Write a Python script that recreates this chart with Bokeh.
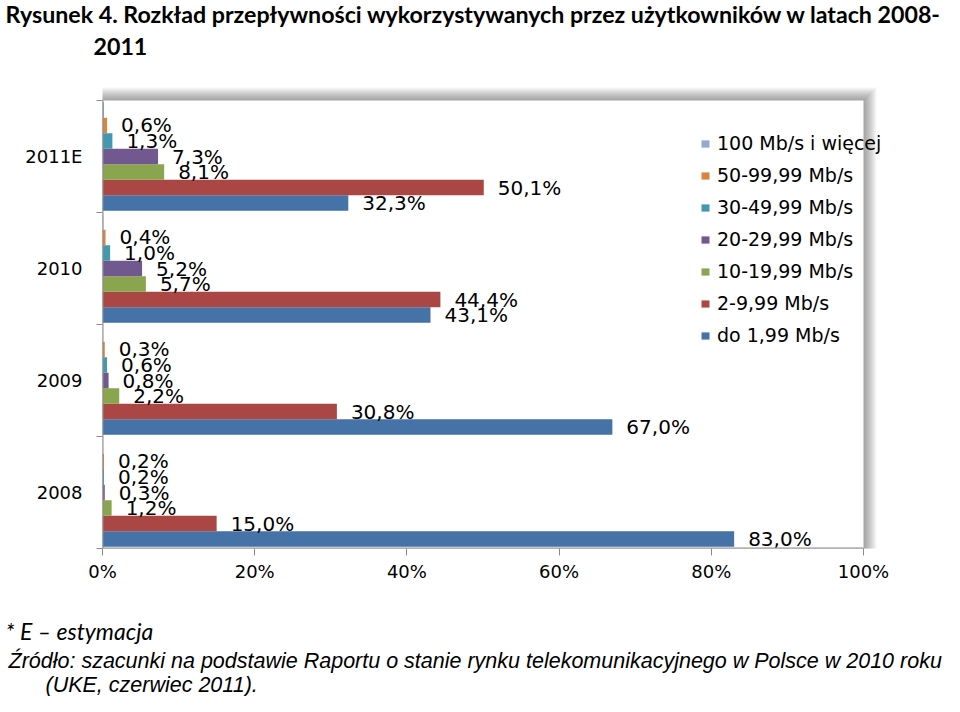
from bokeh.plotting import figure
from bokeh.layouts import column
from bokeh.models import Range1d, FixedTicker, Legend, LegendItem, Label, ColumnDataSource, PrintfTickFormatter
from bokeh.transform import dodge
from bokeh.core.properties import value
from bokeh.embed import file_html
from bokeh.resources import INLINE

# ---------------- data ----------------
years = ["2008", "2009", "2010", "2011E"]
series = ["do 1,99 Mb/s", "2-9,99 Mb/s", "10-19,99 Mb/s", "20-29,99 Mb/s",
          "30-49,99 Mb/s", "50-99,99 Mb/s", "100 Mb/s i więcej"]
do_1_99 = [83.0, 67.0, 43.1, 32.3]
mb_2_9 = [15.0, 30.8, 44.4, 50.1]
mb_10_19 = [1.2, 2.2, 5.7, 8.1]
mb_20_29 = [0.3, 0.8, 5.2, 7.3]
mb_30_49 = [0.2, 0.6, 1.0, 1.3]
mb_50_99 = [0.2, 0.3, 0.4, 0.6]
mb_100 = [0.0, 0.0, 0.1, 0.2]
show_labels = [True, True, True, True, True, True, False]
colors = ["#4572A7", "#AA4643", "#89A54E", "#71588F", "#4198AF", "#DB843D", "#93A9CF"]
x_ticks = [0, 20, 40, 60, 80, 100]
title_lines = ["Rysunek 4. Rozkład przepływności wykorzystywanych przez użytkowników w latach 2008-",
               "2011"]
note_text = "* E – estymacja"
source_lines = ["Źródło: szacunki na podstawie Raportu o stanie rynku telekomunikacyjnego w Polsce w 2010 roku",
                "(UKE, czerwiec 2011)."]

values_list = [do_1_99, mb_2_9, mb_10_19, mb_20_29, mb_30_49, mb_50_99, mb_100]

data = {"ypos": [i + 0.5 for i in range(len(years))]}
for k, vals in enumerate(values_list):
    data[f"v{k}"] = vals
    data[f"t{k}"] = [f"{v:.1f}".replace(".", ",") + "%" for v in vals]
src = ColumnDataSource(data)

W = 944


def text_figure(h):
    f = figure(width=W, height=h, x_range=Range1d(0, W), y_range=Range1d(0, h),
               x_axis_type=None, y_axis_type=None, output_backend="svg",
               toolbar_location=None, min_border=0,
               min_border_left=0, min_border_right=0, min_border_top=0, min_border_bottom=0,
               frame_align=False)
    f.xgrid.visible = False
    f.ygrid.visible = False
    f.outline_line_color = None
    f.background_fill_color = "white"
    f.border_fill_color = "white"
    return f


# ---------------- title strip ----------------
top = text_figure(86)
top.add_layout(Label(x=5, y=73, x_units="screen", y_units="screen", text=title_lines[0],
                     text_font="Lato", text_font_style="bold", text_font_size="23.2px",
                     text_color="black", text_baseline="alphabetic"))
top.add_layout(Label(x=93, y=40, x_units="screen", y_units="screen", text=title_lines[1],
                     text_font="Lato", text_font_style="bold", text_font_size="23.2px",
                     text_color="black", text_baseline="alphabetic"))

# ---------------- chart ----------------
PX_X = 7.61   # px per percent
PX_Y = 112.0  # px per category
FRAME_W = 803
FRAME_H = 462
p = figure(width=W, height=514,
           x_range=Range1d(0, FRAME_W / PX_X), y_range=Range1d(0, FRAME_H / PX_Y),
           output_backend="svg", toolbar_location=None, frame_align=False,
           min_border_left=102, min_border_right=W - 102 - FRAME_W,
           min_border_top=0, min_border_bottom=514 - FRAME_H)
p.xgrid.visible = False
p.ygrid.visible = False
p.outline_line_color = None
p.background_fill_color = "white"
p.border_fill_color = "white"

# drop shadow of the chart area
n = len(years)
for i in range(1, 14):
    dx = i / PX_X
    dy = i / PX_Y
    p.quad(left=-dx, right=100 + dx, bottom=-dy, top=n + dy,
           fill_color="black", fill_alpha=0.03, line_color=None)
p.quad(left=0, right=100, bottom=0, top=n, fill_color="white", line_color=None)

# bars
h = 0.97 / len(series)
renderers = []
for k, name in enumerate(series):
    off = (k - 3) * h
    r = p.hbar(y=dodge("ypos", off), left=0, right=f"v{k}", height=h, source=src,
               fill_color=colors[k], line_color=None)
    renderers.append(r)
    if show_labels[k]:
        p.text(x=f"v{k}", y=dodge("ypos", off), text=f"t{k}", source=src,
               x_offset=14, text_baseline="middle", text_align="left",
               text_font=value("DejaVu Sans"), text_font_size="20px", text_color="black")

# axis lines
p.segment(x0=0, y0=0, x1=0, y1=n, line_color="#8c8c8c", line_width=2)
p.segment(x0=0, y0=0, x1=100, y1=0, line_color="#8c8c8c", line_width=2)

# x axis
p.xaxis.ticker = FixedTicker(ticks=x_ticks)
p.xaxis.formatter = PrintfTickFormatter(format="%d%%")
p.xaxis.axis_line_color = None
p.xaxis.major_tick_out = 7
p.xaxis.major_tick_in = 0
p.xaxis.major_tick_line_color = "#8c8c8c"
p.xaxis.minor_tick_line_color = None
p.xaxis.major_label_text_font = "DejaVu Sans"
p.xaxis.major_label_text_font_size = "18px"
p.xaxis.major_label_text_color = "black"
p.xaxis.major_label_standoff = 5

# y axis
p.yaxis.ticker = FixedTicker(ticks=[i + 0.5 for i in range(n)], minor_ticks=list(range(n + 1)))
p.yaxis.major_label_overrides = {i + 0.5: y for i, y in enumerate(years)}
p.yaxis.axis_line_color = None
p.yaxis.major_tick_line_color = None
p.yaxis.major_tick_out = 0
p.yaxis.major_tick_in = 0
p.yaxis.minor_tick_out = 6
p.yaxis.minor_tick_in = 0
p.yaxis.minor_tick_line_color = "#8c8c8c"
p.yaxis.major_label_text_font = "DejaVu Sans"
p.yaxis.major_label_text_font_size = "18px"
p.yaxis.major_label_text_color = "black"
p.yaxis.major_label_standoff = 14

# legend
items = [LegendItem(label=series[k], renderers=[renderers[k]]) for k in reversed(range(len(series)))]
legend = Legend(items=items, location=(598, 202), orientation="vertical",
                glyph_width=10, glyph_height=9, label_standoff=7,
                label_text_font="DejaVu Sans", label_text_font_size="19px",
                label_text_color="black", label_height=20, spacing=10,
                padding=0, margin=0, border_line_color=None, background_fill_alpha=0)
p.add_layout(legend)

# ---------------- notes strip ----------------
bottom = text_figure(96)
bottom.add_layout(Label(x=5, y=66, x_units="screen", y_units="screen", text=note_text,
                        text_font="Lato", text_font_style="italic", text_font_size="23px",
                        text_color="black", text_baseline="alphabetic"))
bottom.add_layout(Label(x=8, y=36, x_units="screen", y_units="screen", text=source_lines[0],
                        text_font="Liberation Sans", text_font_style="italic", text_font_size="21.5px",
                        text_color="black", text_baseline="alphabetic"))
bottom.add_layout(Label(x=45, y=12, x_units="screen", y_units="screen", text=source_lines[1],
                        text_font="Liberation Sans", text_font_style="italic", text_font_size="21.5px",
                        text_color="black", text_baseline="alphabetic"))

layout = column(top, p, bottom, spacing=0)
open("out.html", "w").write(file_html(layout, INLINE))
